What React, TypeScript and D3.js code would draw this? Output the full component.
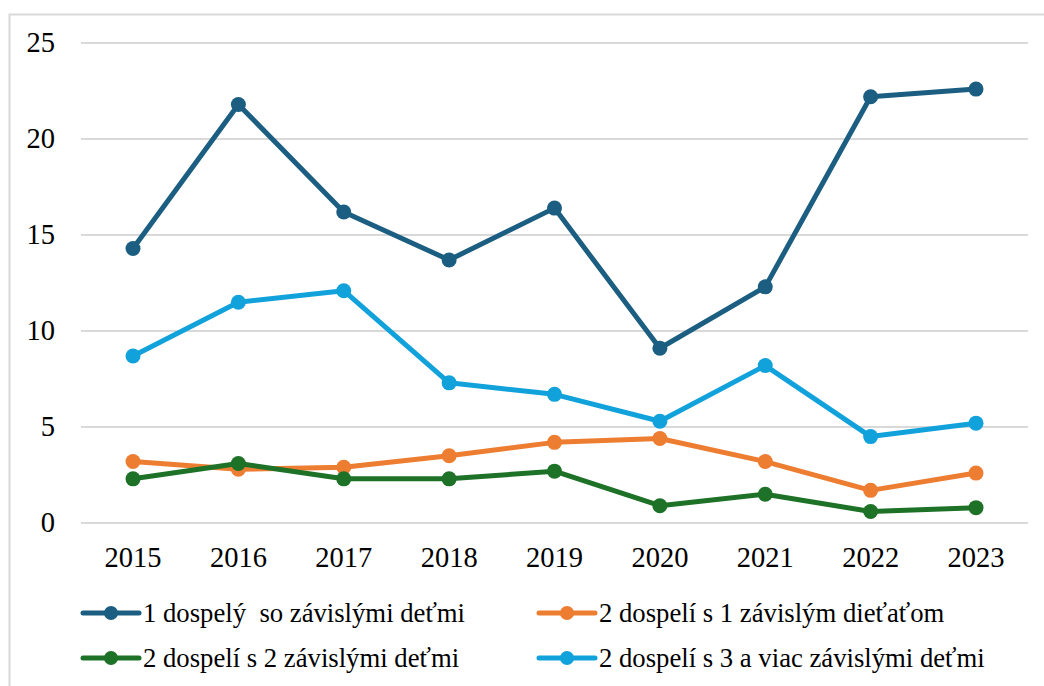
import React from "react";
import * as d3 from "d3";

const years = ["2015", "2016", "2017", "2018", "2019", "2020", "2021", "2022", "2023"];
const yTicks = [0, 5, 10, 15, 20, 25];
const seriesNames = [
  "1 dospelý  so závislými deťmi",
  "2 dospelí s 1 závislým dieťaťom",
  "2 dospelí s 2 závislými deťmi",
  "2 dospelí s 3 a viac závislými deťmi",
];
const oneAdult = [14.3, 21.8, 16.2, 13.7, 16.4, 9.1, 12.3, 22.2, 22.6];
const twoAdultsOne = [3.2, 2.8, 2.9, 3.5, 4.2, 4.4, 3.2, 1.7, 2.6];
const twoAdultsTwo = [2.3, 3.1, 2.3, 2.3, 2.7, 0.9, 1.5, 0.6, 0.8];
const twoAdultsThree = [8.7, 11.5, 12.1, 7.3, 6.7, 5.3, 8.2, 4.5, 5.2];
const colors = ["#1b5e82", "#ed7d31", "#1e7228", "#12a2db"];

const W = 1044;
const H = 686;
const FONT = "Liberation Serif";

export default function App() {
  const x = d3.scalePoint<string>().domain(years).range([133, 976]);
  const y = d3.scaleLinear().domain([0, 25]).range([523, 43]);
  const line = d3
    .line<number>()
    .x((_, i) => x(years[i]) as number)
    .y((d) => y(d));
  const data = [oneAdult, twoAdultsOne, twoAdultsTwo, twoAdultsThree];
  const drawOrder = [0, 3, 1, 2];
  const legendPos = [
    { x: 83, y: 613 },
    { x: 539, y: 613 },
    { x: 83, y: 658 },
    { x: 539, y: 658 },
  ];
  return (
    <svg
      width={W}
      height={H}
      style={{ position: "absolute", left: 0, top: 0, background: "#fff" }}
    >
      <rect x={9.5} y={14.5} width={W + 10} height={H + 10} fill="#fff" stroke="#d9d9d9" strokeWidth={2} />
      {yTicks.map((t) => (
        <g key={t}>
          <line x1={81} x2={1028} y1={y(t)} y2={y(t)} stroke="#d9d9d9" strokeWidth={2} />
          <text x={55} y={y(t)} dy="0.33em" textAnchor="end" fontSize={28.5} fill="#000" fontFamily={FONT}>
            {t}
          </text>
        </g>
      ))}
      {years.map((yr) => (
        <text key={yr} x={x(yr)} y={567} textAnchor="middle" fontSize={28.5} fill="#000" fontFamily={FONT}>
          {yr}
        </text>
      ))}
      {drawOrder.map((si) => (
        <g key={si}>
          <path d={line(data[si]) || ""} fill="none" stroke={colors[si]} strokeWidth={5} strokeLinejoin="round" strokeLinecap="round" />
          {data[si].map((v, i) => (
            <circle key={i} cx={x(years[i])} cy={y(v)} r={7.5} fill={colors[si]} />
          ))}
        </g>
      ))}
      {seriesNames.map((name, si) => {
        const p = legendPos[si];
        return (
          <g key={name}>
            <line x1={p.x} x2={p.x + 56} y1={p.y} y2={p.y} stroke={colors[si]} strokeWidth={5} strokeLinecap="round" />
            <circle cx={p.x + 28} cy={p.y} r={7} fill={colors[si]} />
            <text x={p.x + 60} y={p.y} dy="0.33em" fontSize={26.7} fill="#000" fontFamily={FONT} style={{ whiteSpace: "pre" }}>
              {name}
            </text>
          </g>
        );
      })}
    </svg>
  );
}
